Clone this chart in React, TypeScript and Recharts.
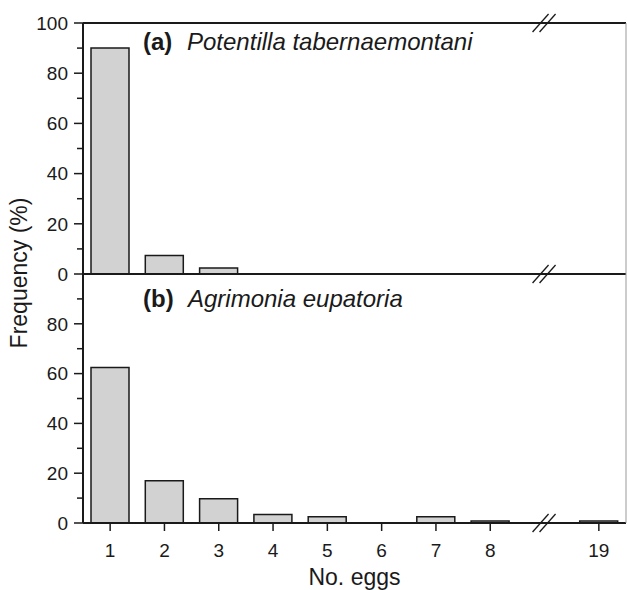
import { BarChart, Bar, XAxis, YAxis, ReferenceLine, ReferenceDot, Label } from 'recharts';

// Number of eggs per clutch ("gap" is the broken stretch of the axis between 8 and 19)
const eggCounts = ['1', '2', '3', '4', '5', '6', '7', '8', 'gap', '19'];

// Frequency (%) of clutch sizes on each host plant
const potentillaFreq = [90, 7.4, 2.4, null, null, null, null, null, null, null];
const agrimoniaFreq = [62.5, 17, 9.7, 3.4, 2.5, 0, 2.5, 0.8, null, 0.8];

const topTicks = [0, 10, 20, 30, 40, 50, 60, 70, 80, 90, 100];
const bottomTicks = [0, 10, 20, 30, 40, 50, 60, 70, 80, 90];

const potentillaData = eggCounts.map((n, i) => ({ eggs: n, freq: potentillaFreq[i] }));
const agrimoniaData = eggCounts.map((n, i) => ({ eggs: n, freq: agrimoniaFreq[i] }));

const FONT = '"Liberation Sans", Arial, Helvetica, sans-serif';
const INK = '#1a1a1a';
const BAR_FILL = '#d2d2d2';

/**
 * Left axis tick: long tick + label every 20, short tick in between
 */
function YTick({ x, y, payload }: any) {
  const major = payload.value % 20 === 0;
  return (
    <g>
      <line x1={x - (major ? 9 : 6)} x2={x} y1={y} y2={y} stroke={INK} strokeWidth={1.5} />
      {major && (
        <text x={x - 15} y={y} dy="0.36em" textAnchor="end" fontSize={19} fill={INK} fontFamily={FONT}>
          {payload.value}
        </text>
      )}
    </g>
  );
}

/**
 * Bottom axis tick, nothing at the break
 */
function XTick({ x, y, payload }: any) {
  if (payload.value === 'gap') return null;
  return (
    <g>
      <line x1={x} x2={x} y1={y} y2={y + 8} stroke={INK} strokeWidth={1.5} />
      <text x={x} y={y + 34} textAnchor="middle" fontSize={19} fill={INK} fontFamily={FONT}>
        {payload.value}
      </text>
    </g>
  );
}

/**
 * "//" axis break mark
 */
function BreakMark({ cx, cy }: any) {
  if (cx == null || cy == null) return null;
  return (
    <g stroke={INK} strokeWidth={1.3}>
      <line x1={cx - 12} y1={cy + 9} x2={cx + 4} y2={cy - 9} />
      <line x1={cx - 5} y1={cy + 9} x2={cx + 11} y2={cy - 9} />
    </g>
  );
}

export default function App() {
  return (
    <div style={{ position: 'absolute', left: 0, top: 0, width: 627, height: 590, background: '#fff', fontFamily: FONT }}>
      {/* (a) Potentilla */}
      <div style={{ position: 'absolute', left: 0, top: 0 }}>
        <BarChart width={627} height={290} data={potentillaData} margin={{ top: 23, right: 0, left: 0, bottom: 16 }}>
          <XAxis dataKey="eggs" hide />
          <YAxis
            width={83}
            domain={[0, 100]}
            ticks={topTicks}
            interval={0}
            tickSize={0}
            tickMargin={0}
            tickLine={false}
            tick={<YTick />}
            axisLine={{ stroke: INK, strokeWidth: 2 }}
          />
          <YAxis yAxisId="r" orientation="right" width={1} domain={[0, 100]} tick={false} tickLine={false} axisLine={{ stroke: '#999', strokeWidth: 1 }} />
          <ReferenceLine y={100} stroke={INK} strokeWidth={2} />
          <ReferenceLine y={0} stroke={INK} strokeWidth={2} />
          <Bar dataKey="freq" fill={BAR_FILL} stroke={INK} strokeWidth={1.5} barSize={38} isAnimationActive={false} />
          <ReferenceDot x="gap" y={100} ifOverflow="visible" shape={<BreakMark />} />
          <ReferenceDot x="gap" y={0} ifOverflow="visible" shape={<BreakMark />} />
        </BarChart>
      </div>

      {/* (b) Agrimonia */}
      <div style={{ position: 'absolute', left: 0, top: 264 }}>
        <BarChart width={627} height={326} data={agrimoniaData} margin={{ top: 10, right: 0, left: 0, bottom: 0 }}>
          <XAxis
            dataKey="eggs"
            height={67}
            interval={0}
            tickSize={0}
            tickMargin={0}
            tickLine={false}
            tick={<XTick />}
            axisLine={{ stroke: INK, strokeWidth: 2 }}
          >
            <Label value="No. eggs" position="insideBottom" offset={5} fontSize={23} fill={INK} fontFamily={FONT} />
          </XAxis>
          <YAxis
            width={83}
            domain={[0, 100]}
            ticks={bottomTicks}
            interval={0}
            tickSize={0}
            tickMargin={0}
            tickLine={false}
            tick={<YTick />}
            axisLine={{ stroke: INK, strokeWidth: 2 }}
          />
          <YAxis yAxisId="r" orientation="right" width={1} domain={[0, 100]} tick={false} tickLine={false} axisLine={{ stroke: '#999', strokeWidth: 1 }} />
          <Bar dataKey="freq" fill={BAR_FILL} stroke={INK} strokeWidth={1.5} barSize={38} isAnimationActive={false} />
          <ReferenceDot x="gap" y={0} ifOverflow="visible" shape={<BreakMark />} />
        </BarChart>
      </div>

      {/* Shared y title and panel captions */}
      <svg width={627} height={590} style={{ position: 'absolute', left: 0, top: 0, pointerEvents: 'none' }}>
        <text transform="translate(27, 273) rotate(-90)" textAnchor="middle" fontSize={23} fill={INK} fontFamily={FONT}>
          Frequency (%)
        </text>
        <text y={50} fontSize={24} fill={INK} fontFamily={FONT}>
          <tspan x={143} fontWeight="bold">(a)</tspan>
          <tspan x={187} fontStyle="italic">Potentilla tabernaemontani</tspan>
        </text>
        <text y={307} fontSize={24} fill={INK} fontFamily={FONT}>
          <tspan x={143} fontWeight="bold">(b)</tspan>
          <tspan x={188} fontStyle="italic">Agrimonia eupatoria</tspan>
        </text>
      </svg>
    </div>
  );
}
